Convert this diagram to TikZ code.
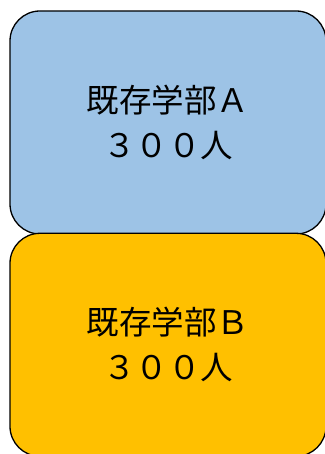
\documentclass[tikz,border=0pt]{standalone}
\usepackage{fontspec}
\newfontfamily\jpfont{Noto Sans CJK JP}
\usetikzlibrary{positioning}
\definecolor{faculA}{HTML}{9DC3E6}
\definecolor{faculB}{HTML}{FFC000}

\begin{document}
\begin{tikzpicture}[x=1pt,y=1pt]
		\tikzstyle{facul}=[rectangle,rounded corners=30pt,draw=black,line width=1.3pt,minimum width=316pt,minimum height=223pt,inner sep=0pt,align=center,font=\jpfont\fontsize{32.5}{45}\selectfont]
		\useasboundingbox (0,0) rectangle (324,454);
		\node[facul,fill=faculA] (a) at (168,331.5) {既存学部Ａ\\３００人};
		\node[facul,fill=faculB,below=-2pt of a] (b) {既存学部Ｂ\\３００人};
	\end{tikzpicture}
\end{document}
